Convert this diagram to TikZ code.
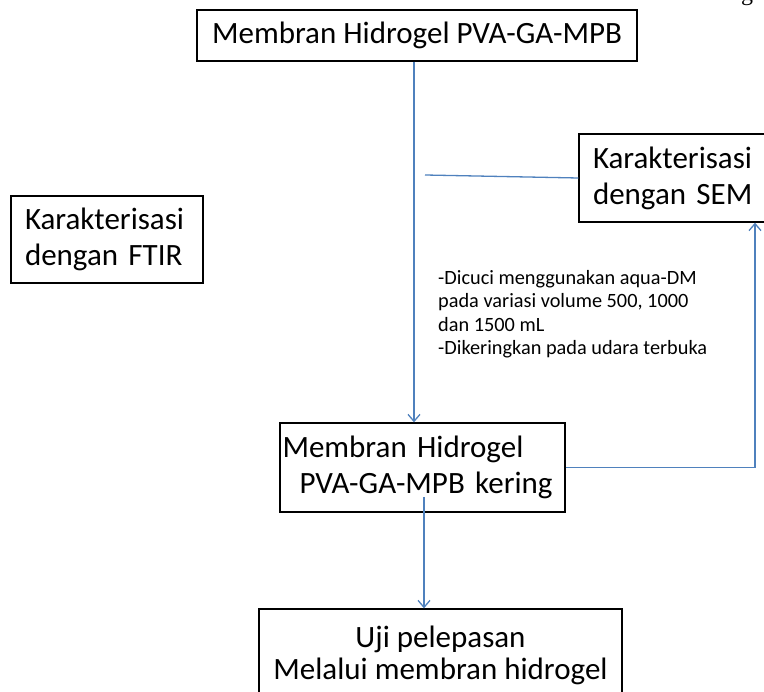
\documentclass[tikz,border=0pt]{standalone}
\usepackage{fontspec}
\setmainfont{Carlito}
\newfontfamily\serifgfont{Liberation Serif}
\usetikzlibrary{arrows.meta}
\begin{document}
\begin{tikzpicture}[x=1pt, y=-1pt,
    box/.style={rectangle, draw, line width=1.3pt, inner sep=0pt, font=\fontsize{31}{36}\selectfont},
    note/.style={align=left, inner sep=0pt, anchor=north west, font=\fontsize{20.3}{23.5}\selectfont},
    link/.style={draw={rgb,255:red,79;green,129;blue,189}, line width=1.3pt},
    arrow/.style={link, -{Straight Barb[length=7pt, width=12pt]}}
]
    \useasboundingbox (0,0) rectangle (764,692);
    % Boxes
    \node[box, minimum width=440pt, minimum height=51pt] (top) at (417,35.5) {Membran Hidrogel PVA-GA-MPB};
    \node[box, minimum width=188pt, minimum height=88pt, align=left, text width=160pt] (sem) at (673,178) {Karakterisasi\\dengan SEM};
    \node[box, minimum width=192pt, minimum height=87pt, align=left, text width=164pt] (ftir) at (107,239.5) {Karakterisasi\\dengan FTIR};
    \node[box, minimum width=285pt, minimum height=89pt, align=left, text width=280pt] (mid) at (422.5,467.5) {Membran Hidrogel\\\hspace*{17pt}PVA-GA-MPB kering};
    \node[box, minimum width=363pt, minimum height=92pt, align=center, font=\fontsize{31}{32}\selectfont] (bot) at (440.5,655) {Uji pelepasan\\Melalui membran hidrogel};
    \node[anchor=base west, inner sep=0pt, font=\serifgfont\fontsize{24}{24}\selectfont] (cut) at (741,0.5) {g};

    % Treatment note
    \node[note] (wash) at (438,270) {-Dicuci menggunakan aqua-DM\\pada variasi volume 500, 1000\\dan 1500 mL\\-Dikeringkan pada udara terbuka};

    % Connectors
    \coordinate (semstart) at (425,175);
    \coordinate (midout) at (424,497);
    \draw[arrow] ([xshift=-3pt]top.south) -- ([xshift=-3pt]top.south |- mid.north);
    \draw[link] (semstart) -- (sem.west);
    \draw[arrow] (mid.east) -| ([xshift=82pt]sem.south);
    \draw[arrow] (midout) -- (midout |- bot.north);
\end{tikzpicture}
\end{document}
